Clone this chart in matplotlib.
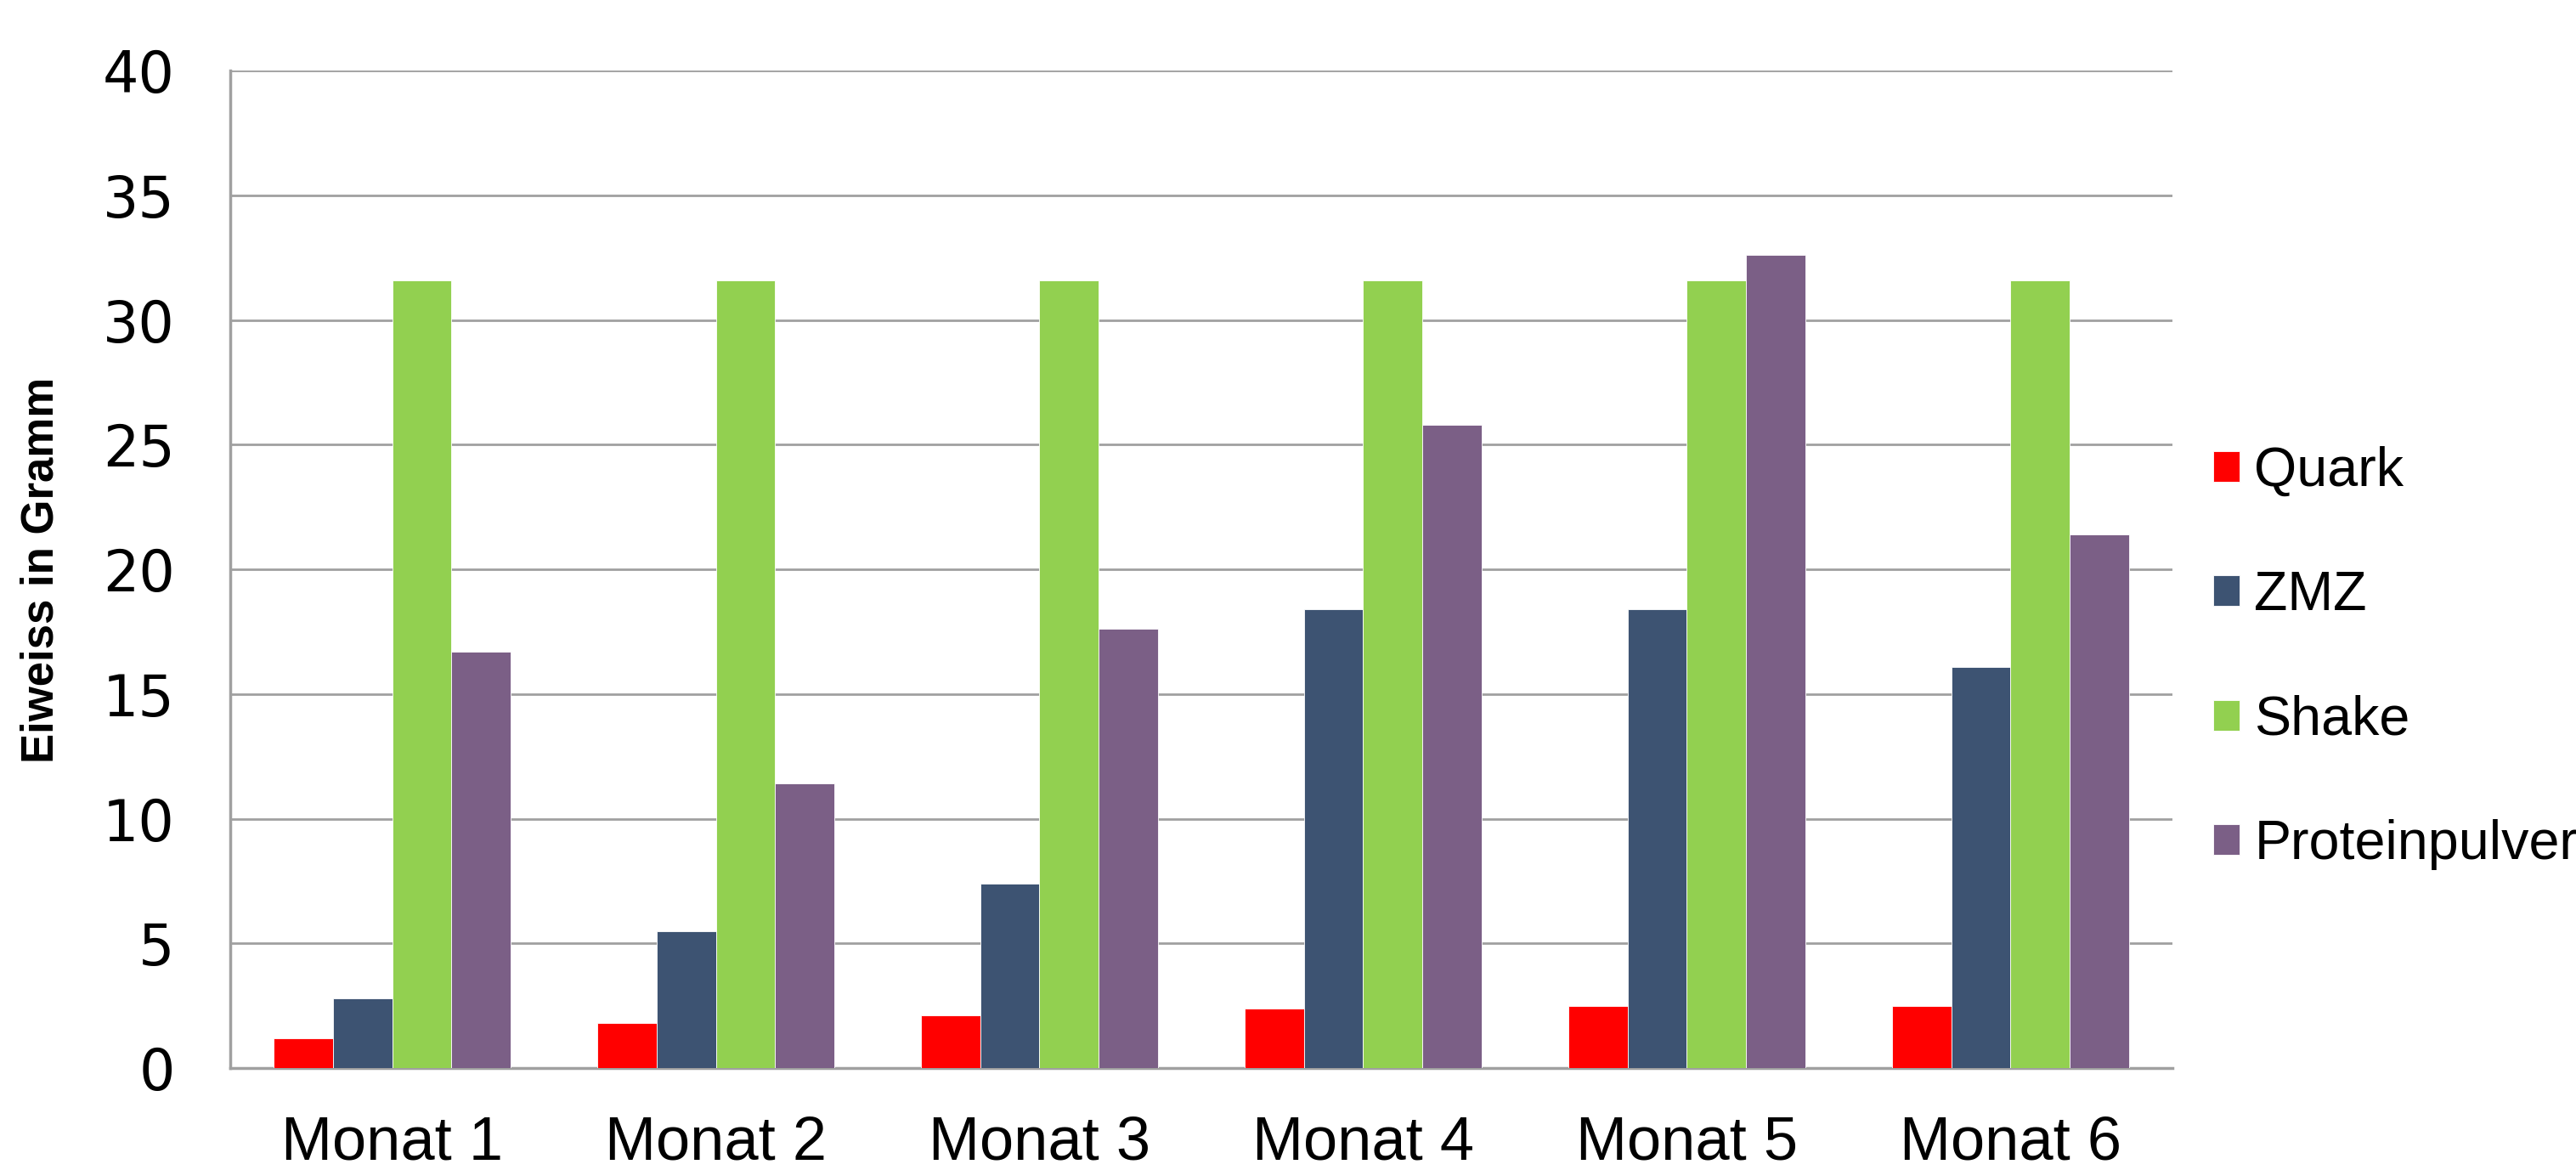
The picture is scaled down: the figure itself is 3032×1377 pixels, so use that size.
import numpy as np
from matplotlib import pyplot as plt

months = ['Monat 1', 'Monat 2', 'Monat 3', 'Monat 4', 'Monat 5', 'Monat 6']
series = ['Quark', 'ZMZ', 'Shake', 'Proteinpulver']
quark = [1.2, 1.8, 2.1, 2.4, 2.5, 2.5]
zmz = [2.8, 5.5, 7.4, 18.4, 18.4, 16.1]
shake = [31.6, 31.6, 31.6, 31.6, 31.6, 31.6]
protein = [16.7, 11.4, 17.6, 25.8, 32.6, 21.4]
colors = ['#FF0000', '#3D5372', '#92D050', '#7B5F86']

fig = plt.figure(figsize=(30.32, 13.77), dpi=100)
ax = fig.add_axes([0.0894, 0.0871, 0.7539, 0.8526])

x = np.arange(len(months))
w = 0.183
for i, (name, vals) in enumerate(zip(series, [quark, zmz, shake, protein])):
    ax.bar(x + (i - 1.5) * w, vals, w, color=colors[i], label=name,
           edgecolor='white', linewidth=0.6, zorder=3)

ax.set_xlim(-0.5, 5.5)
ax.set_ylim(0, 40)
ax.set_yticks(range(0, 41, 5))
ax.set_xticks(x)
ax.set_xticklabels(months, family='Liberation Sans', fontsize=52)
for lab in ax.get_yticklabels():
    lab.set_family('DejaVu Sans')
    lab.set_fontsize(48)
ax.tick_params(axis='y', length=0, pad=47)
ax.tick_params(axis='x', length=0, pad=40)

ax.grid(axis='y', color='#a0a0a0', linewidth=2, zorder=0)
for s in ['top', 'right']:
    ax.spines[s].set_visible(False)
for s in ['left', 'bottom']:
    ax.spines[s].set_color('#a0a0a0')
    ax.spines[s].set_linewidth(2.5)

fig.text(0.016, 0.513, 'Eiweiss in Gramm', rotation=90, ha='center', va='center',
         family='Liberation Sans', fontweight='bold', fontsize=38)

leg = ax.legend(loc='center left', bbox_to_anchor=(1.021, 0.411), frameon=False,
                prop={'family': 'Liberation Sans', 'size': 46.5},
                handlelength=0.48, handleheight=0.48, handletextpad=0.27,
                labelspacing=1.34, borderaxespad=0, borderpad=0)

fig.savefig('out.png', dpi=100)
